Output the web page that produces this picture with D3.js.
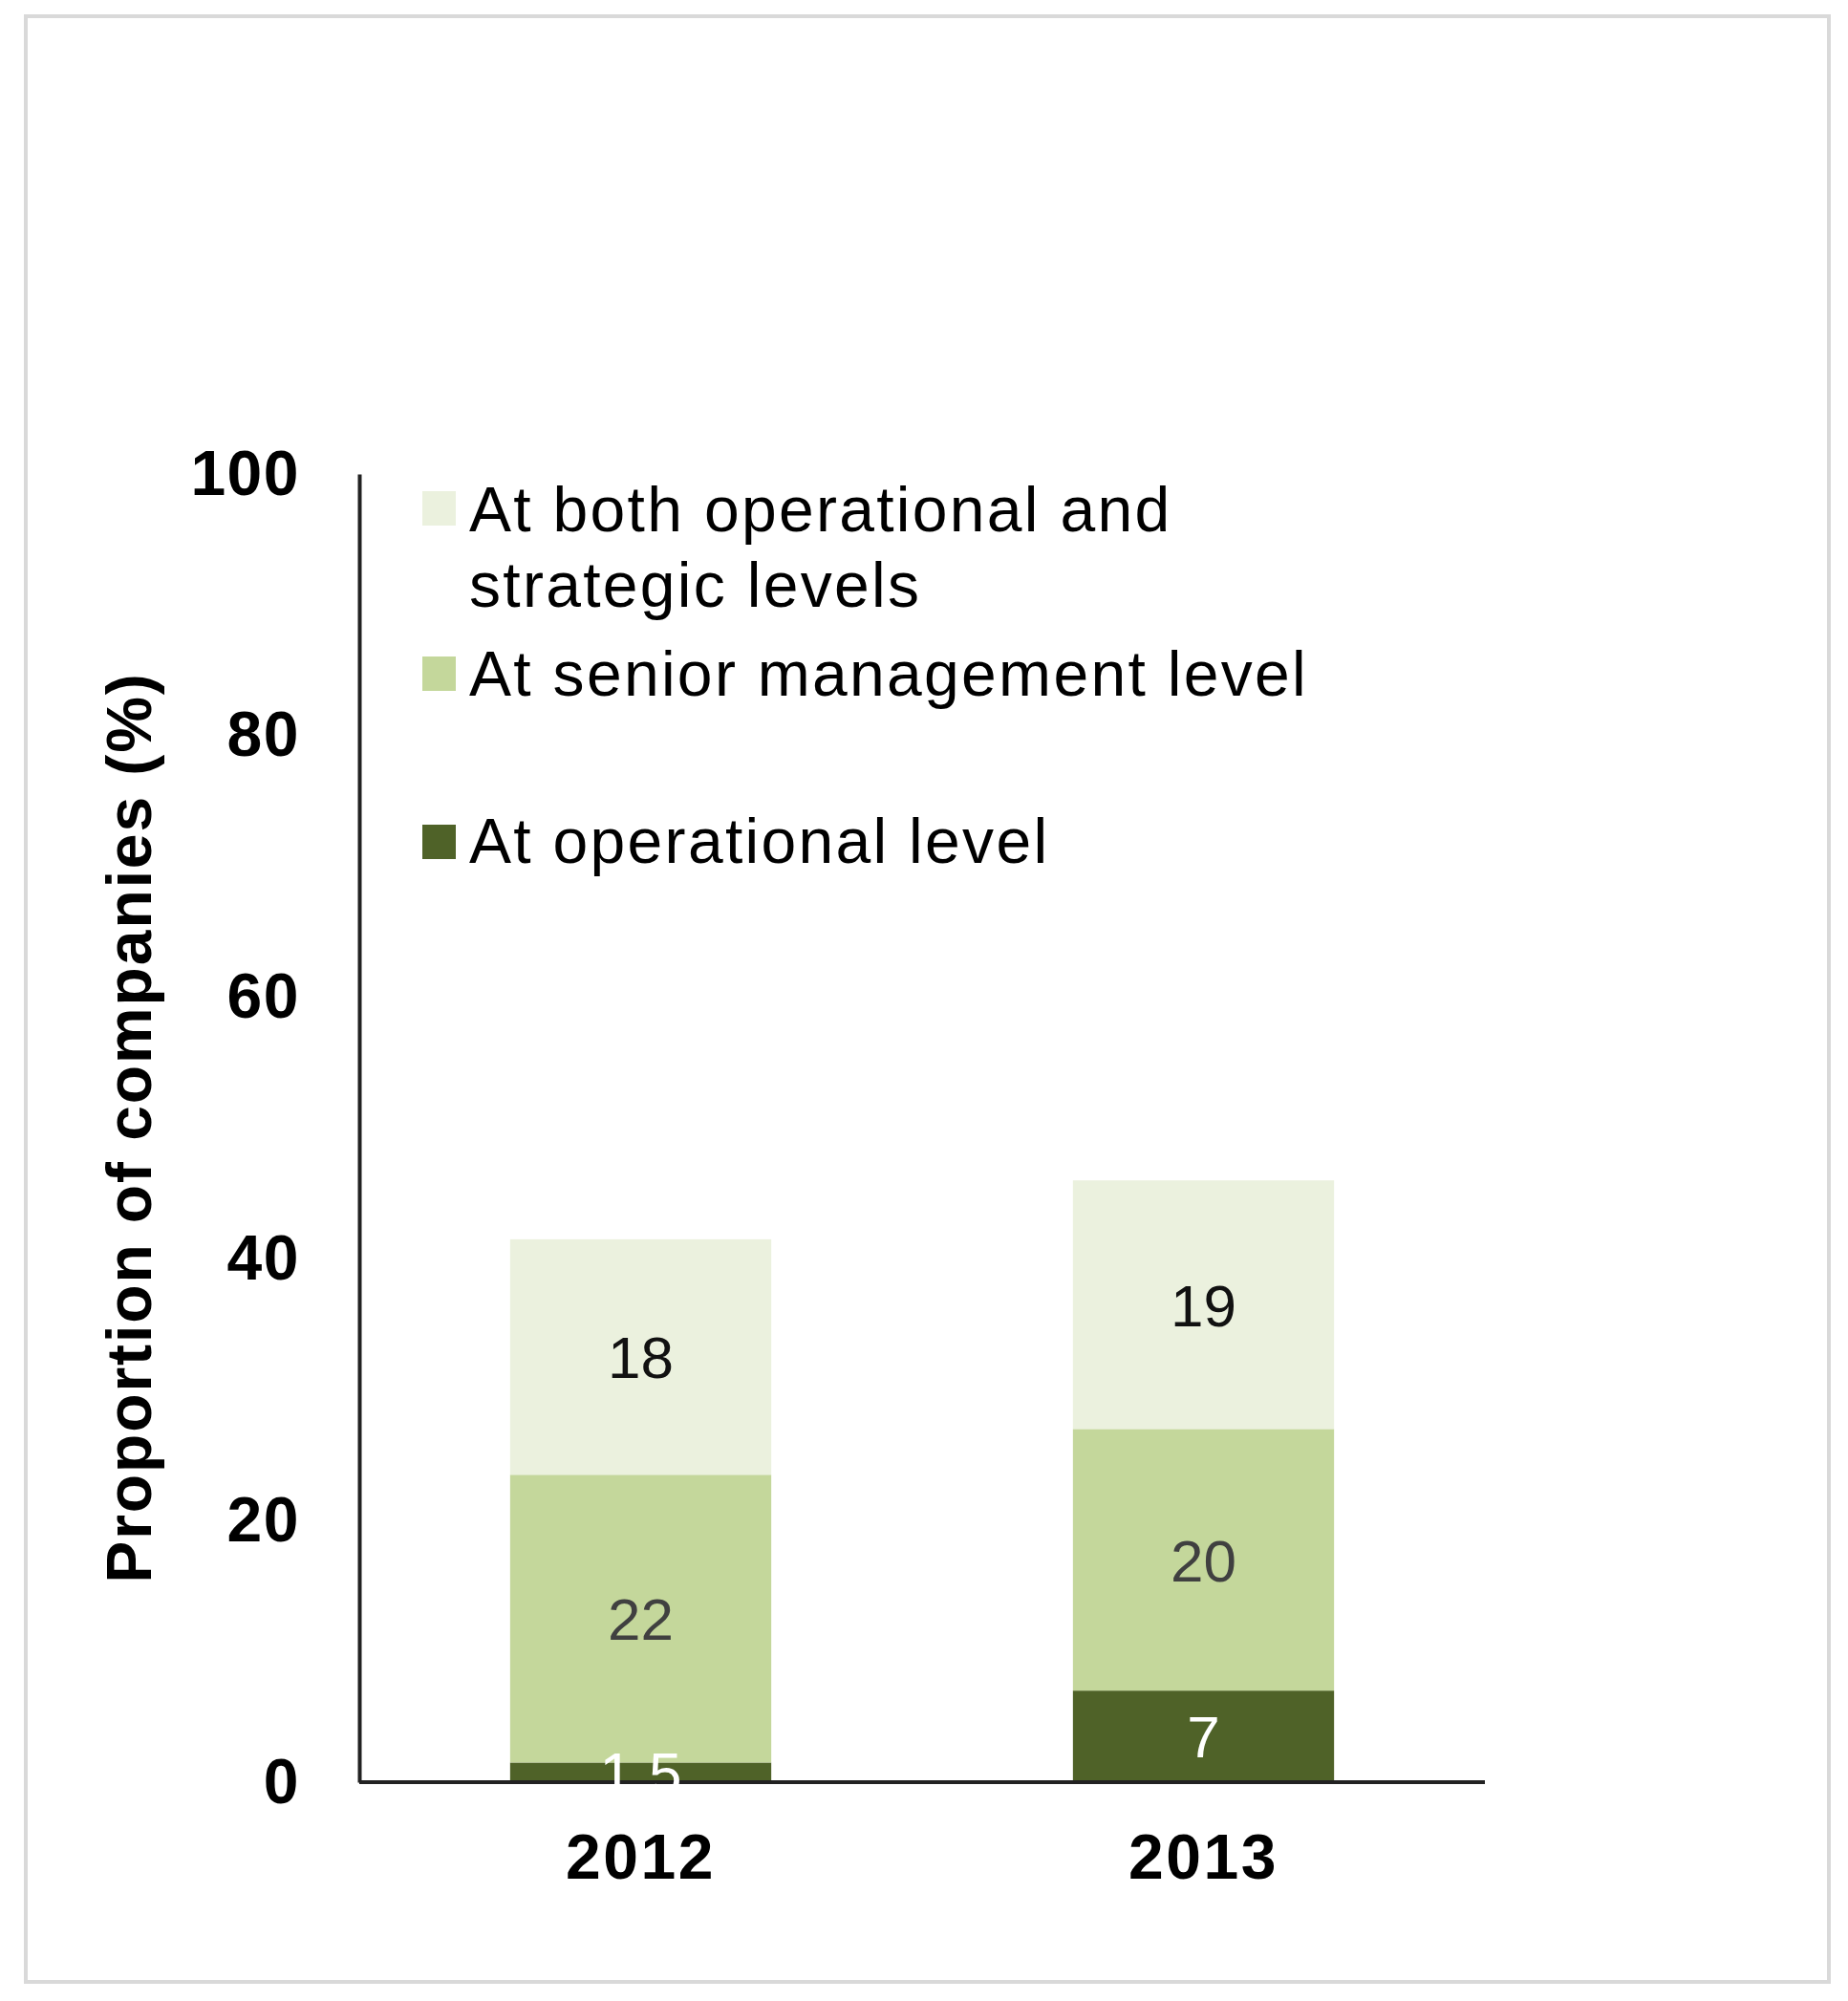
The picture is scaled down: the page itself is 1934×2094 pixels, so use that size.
<!DOCTYPE html>
<html>
<head>
<meta charset="utf-8">
<script src="https://cdn.jsdelivr.net/npm/d3@7"></script>
<style>
  body { margin: 0; background: #fff; }
  svg { display: block; }
</style>
</head>
<body>
<div id="chart"></div>
<script>
// data
var years = ["2012", "2013"]
var seriesNames = ["At operational level", "At senior management level", "At both operational and strategic levels"]
var operational = [1.5, 7]
var senior = [22, 20]
var both = [18, 19]
var labelText = [["1.5", "7"], ["22", "20"], ["18", "19"]]
var yTicks = [0, 20, 40, 60, 80, 100]

var W = 1934, H = 2094
var colors = ["#4f6228", "#c4d79b", "#ebf1de"]
var labelColors = ["#ffffff", "#404040", "#111111"]
var font = "Liberation Sans, Arial, sans-serif"

var svg = d3.select("#chart").append("svg")
    .attr("width", W)
    .attr("height", H)

// outer frame
svg.append("rect")
    .attr("x", 27).attr("y", 17)
    .attr("width", 1887).attr("height", 2057)
    .attr("fill", "#fff")
    .attr("stroke", "#d9d9d9")
    .attr("stroke-width", 4)

var pLeft = 376, pRight = 1554, pTop = 496, pBottom = 1865

var x = d3.scaleBand()
    .domain(years)
    .range([pLeft, pRight])
    .paddingInner(0.536)
    .paddingOuter(0.268)

var y = d3.scaleLinear()
    .domain([0, 100])
    .range([pBottom, pTop])

// stack rows
var rows = years.map(function (yr, i) {
    return { year: yr, op: operational[i], sen: senior[i], both: both[i] }
})
var stack = d3.stack().keys(["op", "sen", "both"])
var layers = stack(rows)

// bars
var g = svg.append("g")
layers.forEach(function (layer, li) {
    g.selectAll(".bar" + li)
        .data(layer)
        .enter()
        .append("rect")
        .attr("x", d => x(d.data.year))
        .attr("y", d => y(d[1]))
        .attr("width", x.bandwidth())
        .attr("height", d => y(d[0]) - y(d[1]))
        .attr("fill", colors[li])
})

// axes
var yAxis = svg.append("g")
    .attr("transform", "translate(" + pLeft + ",0)")
    .call(d3.axisLeft(y).tickValues(yTicks).tickSize(0).tickPadding(62))
yAxis.select(".domain").attr("stroke", "#222").attr("stroke-width", 4)
yAxis.selectAll("text")
    .attr("font-family", font)
    .attr("font-weight", "bold")
    .attr("font-size", 66)
    .attr("letter-spacing", 1.5)
    .attr("fill", "#000")

var xAxis = svg.append("g")
    .attr("transform", "translate(0," + pBottom + ")")
    .call(d3.axisBottom(x).tickSize(0).tickPadding(54))
xAxis.select(".domain").attr("d", "M" + pLeft + ",0H" + pRight).attr("stroke", "#222").attr("stroke-width", 4)
xAxis.selectAll("text")
    .attr("font-family", font)
    .attr("font-weight", "bold")
    .attr("font-size", 66)
    .attr("letter-spacing", 2.5)
    .attr("fill", "#000")

// data labels, above the axis line
var lab = svg.append("g")
layers.forEach(function (layer, li) {
    lab.selectAll(".lab" + li)
        .data(layer)
        .enter()
        .append("text")
        .text((d, i) => labelText[li][i])
        .attr("x", d => x(d.data.year) + x.bandwidth() / 2)
        .attr("y", d => y((d[0] + d[1]) / 2))
        .attr("dy", "0.36em")
        .attr("text-anchor", "middle")
        .attr("font-family", font)
        .attr("font-size", 62)
        .attr("fill", labelColors[li])
})

// y title
svg.append("text")
    .attr("transform", "translate(158,1180) rotate(-90)")
    .attr("text-anchor", "middle")
    .attr("font-family", font)
    .attr("font-weight", "bold")
    .attr("font-size", 66)
    .attr("letter-spacing", 1.9)
    .attr("fill", "#000")
    .text("Proportion of companies (%)")

// legend (top to bottom, reversed order)
var legendItems = [
    { c: colors[2], lines: ["At both operational and", "strategic levels"], sy: 514, ty: 556 },
    { c: colors[1], lines: ["At senior management level"], sy: 687, ty: 728 },
    { c: colors[0], lines: ["At operational level"], sy: 863, ty: 903 }
]
var lg = svg.append("g")
legendItems.forEach(function (it) {
    lg.append("rect")
        .attr("x", 442).attr("y", it.sy)
        .attr("width", 35).attr("height", 36)
        .attr("fill", it.c)
    var t = lg.append("text")
        .attr("x", 491).attr("y", it.ty)
        .attr("font-family", font)
        .attr("font-size", 66)
        .attr("letter-spacing", 2.3)
        .attr("fill", "#000")
    it.lines.forEach(function (l, k) {
        t.append("tspan").attr("x", 491).attr("dy", k == 0 ? 0 : 79).text(l)
    })
})
</script>
</body>
</html>
